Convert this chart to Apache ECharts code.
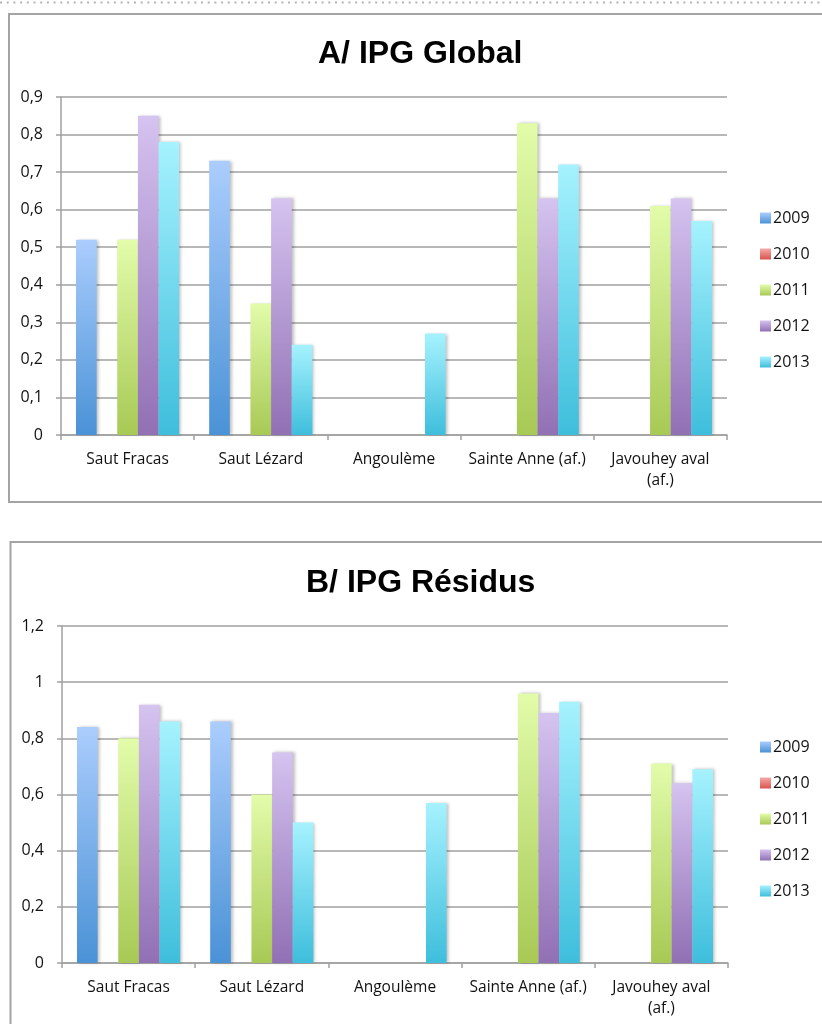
<!DOCTYPE html>
<html>
<head>
<meta charset="utf-8">
<script src="https://cdn.jsdelivr.net/npm/echarts@6/dist/echarts.min.js"></script>
<style>
  html, body { margin: 0; padding: 0; background: #fff; }
  #chart { width: 822px; height: 1024px; }
</style>
</head>
<body>
<div id="chart"></div>
<script>
// Sites and years
const sites = ['Saut Fracas', 'Saut Lézard', 'Angoulème', 'Sainte Anne (af.)', 'Javouhey aval (af.)'];
const years = ['2009', '2010', '2011', '2012', '2013'];

// A/ IPG Global, one array per year (null = no sample)
const globalValues = {
  '2009': [0.52, 0.73, null, null, null],
  '2010': [null, null, null, null, null],
  '2011': [0.52, 0.35, null, 0.83, 0.61],
  '2012': [0.85, 0.63, null, 0.63, 0.63],
  '2013': [0.78, 0.24, 0.27, 0.72, 0.57]
};

// B/ IPG Résidus
const residusValues = {
  '2009': [0.84, 0.86, null, null, null],
  '2010': [null, null, null, null, null],
  '2011': [0.80, 0.60, null, 0.96, 0.71],
  '2012': [0.92, 0.75, null, 0.89, 0.64],
  '2013': [0.86, 0.50, 0.57, 0.93, 0.69]
};

// Y axis settings for both panels
const globalAxis = { min: 0, max: 0.9, interval: 0.1 };
const residusAxis = { min: 0, max: 1.2, interval: 0.2 };

// Vertical gradient per year: light at the top, darker at the base
const yearColors = {
  '2009': ['#abcdfd', '#4a92d6'],
  '2010': ['#f4aaa6', '#d9534f'],
  '2011': ['#e2fcaa', '#a8c955'],
  '2012': ['#d5c3f0', '#9170b4'],
  '2013': ['#a6f2fe', '#3ebedc']
};

function gradient(year) {
  const c = yearColors[year];
  return new echarts.graphic.LinearGradient(0, 0, 0, 1, [
    { offset: 0, color: c[0] },
    { offset: 1, color: c[1] }
  ]);
}

const axisGray = '#a0a0a0';
const labelFont = '"Open Sans", Lato, sans-serif';

function fmtComma(v) {
  return String(Math.round(v * 10) / 10).replace('.', ',');
}

// long site names go on two lines, the "(af.)" suffix below
function fmtSite(name) {
  return name.length > 18 ? name.replace(' (af.)', '\n(af.)') : name;
}

function xAxisFor(gridIndex) {
  return {
    type: 'category',
    gridIndex: gridIndex,
    data: sites,
    axisLine: { lineStyle: { color: axisGray, width: 1.5 } },
    axisTick: { show: true, length: 5, lineStyle: { color: axisGray, width: 1.5 } },
    axisLabel: {
      color: '#111',
      fontFamily: labelFont,
      fontSize: 15.5,
      margin: 14,
      lineHeight: 21,
      interval: 0,
      formatter: fmtSite
    }
  };
}

function yAxisFor(gridIndex, ax) {
  return {
    type: 'value',
    gridIndex: gridIndex,
    min: ax.min,
    max: ax.max,
    interval: ax.interval,
    axisLine: { show: true, lineStyle: { color: axisGray, width: 1.5 } },
    axisTick: { show: true, length: 5, lineStyle: { color: axisGray, width: 1.5 } },
    splitLine: { lineStyle: { color: axisGray, width: 1.5 } },
    axisLabel: {
      color: '#111',
      fontFamily: labelFont,
      fontSize: 16,
      margin: 18,
      formatter: fmtComma
    }
  };
}

function seriesFor(values, axisIndex) {
  return years.map(function (y) {
    return {
      name: y,
      type: 'bar',
      xAxisIndex: axisIndex,
      yAxisIndex: axisIndex,
      data: values[y],
      barGap: '0%',
      barCategoryGap: '22.5%',
      itemStyle: {
        color: gradient(y),
        shadowColor: 'rgba(0,0,0,0.25)',
        shadowBlur: 3,
        shadowOffsetX: 2
      },
      emphasis: { disabled: true },
      animation: false
    };
  });
}

function legendFor(top) {
  return {
    orient: 'vertical',
    left: 760,
    top: top,
    padding: 0,
    itemWidth: 11,
    itemHeight: 11,
    itemGap: 20,
    icon: 'rect',
    selectedMode: false,
    textStyle: { fontFamily: labelFont, fontSize: 16, color: '#111', padding: [0, 0, 0, -3] },
    data: years
  };
}

const titleStyle = {
  fontFamily: '"Liberation Sans", Arial, sans-serif',
  fontWeight: 'bold',
  fontSize: 32,
  color: '#000'
};

const option = {
  animation: false,
  title: [
    { text: 'A/ IPG Global', left: 318, top: 38, padding: 0, textStyle: titleStyle },
    { text: 'B/ IPG Résidus', left: 306, top: 567, padding: 0, textStyle: titleStyle }
  ],
  legend: [legendFor(210), legendFor(739)],
  grid: [
    { left: 61, right: 95, top: 97, bottom: 1024 - 435 },
    { left: 62, right: 94, top: 626, bottom: 1024 - 963 }
  ],
  xAxis: [xAxisFor(0), xAxisFor(1)],
  yAxis: [yAxisFor(0, globalAxis), yAxisFor(1, residusAxis)],
  series: seriesFor(globalValues, 0).concat(seriesFor(residusValues, 1)),
  graphic: [
    {
      type: 'line',
      shape: { x1: 0, y1: 2.5, x2: 822, y2: 2.5 },
      style: { stroke: '#b4b4b4', lineWidth: 2, lineDash: [2, 4.7] },
      silent: true
    },
    {
      type: 'rect',
      shape: { x: 9, y: 14, width: 830, height: 488 },
      style: { fill: null, stroke: '#a4a4a4', lineWidth: 2 },
      silent: true,
      z: -1
    },
    {
      type: 'rect',
      shape: { x: 10.5, y: 542, width: 830, height: 500 },
      style: { fill: null, stroke: '#a4a4a4', lineWidth: 2 },
      silent: true,
      z: -1
    }
  ]
};

const chart = echarts.init(document.getElementById('chart'), null, { renderer: 'canvas' });
chart.setOption(option);
</script>
</body>
</html>
